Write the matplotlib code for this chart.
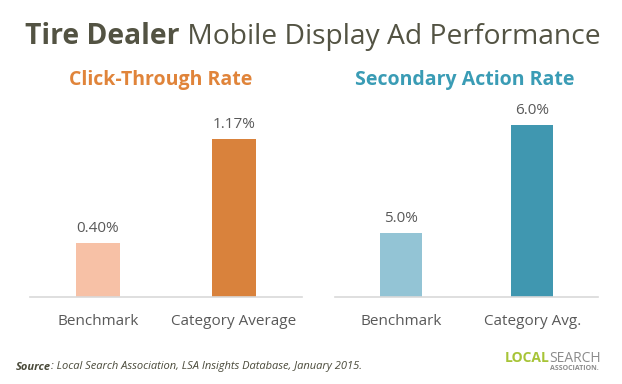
import matplotlib.pyplot as plt

# data
ctr_labels = ["Benchmark", "Category Average"]
ctr_values = [0.40, 1.17]
sar_labels = ["Benchmark", "Category Avg."]
sar_values = [5.0, 6.0]

ctr_colors = ["#F7C1A6", "#D9823C"]
sar_colors = ["#93C4D5", "#4097B0"]
text_color = "#595959"

plt.rcParams["font.family"] = ["Open Sans", "DejaVu Sans"]

W, H = 622, 384
fig = plt.figure(figsize=(W / 100, H / 100), dpi=100)


def px_axes(x0, x1, ybottom, ytop):
    return fig.add_axes([x0 / W, 1 - ybottom / H, (x1 - x0) / W, (ybottom - ytop) / H])


def bar_panel(ax, labels, values, colors, fmt, ylim):
    xs = range(len(values))
    # bars start at the bottom of the visible range (the right panel is not zero-based)
    ax.bar(xs, [v - ylim[0] for v in values], bottom=ylim[0], width=0.32, color=colors)
    ax.set_xlim(-0.5, 1.5)
    ax.set_ylim(*ylim)
    for x, v in zip(xs, values):
        ax.annotate(fmt.format(v), (x, v), xytext=(0, 5), textcoords="offset points",
                    ha="center", va="bottom", fontsize=11, color=text_color)
    ax.set_xticks(list(xs))
    ax.set_xticklabels(labels, fontsize=11, color=text_color)
    ax.tick_params(axis="x", length=0, pad=12)
    ax.set_yticks([])
    for s in ["top", "right", "left"]:
        ax.spines[s].set_visible(False)
    ax.spines["bottom"].set_color("#D9D9D9")
    ax.spines["bottom"].set_linewidth(1.2)
    ax.patch.set_alpha(0)


ax1 = px_axes(30, 302, 297, 108)
bar_panel(ax1, ctr_labels, ctr_values, ctr_colors, "{:.2f}%", (0, 1.4))

ax2 = px_axes(335, 598, 297, 108)
bar_panel(ax2, sar_labels, sar_values, sar_colors, "{:.1f}%", (4.41, 6.16))

fig.canvas.draw()
r = fig.canvas.get_renderer()

# title: bold lead + regular rest, centred as one line
title_y = 1 - 37 / H
t1 = fig.text(0.5, title_y, "Tire Dealer", fontsize=20.3, fontweight="bold",
              color="#535343", ha="right", va="center")
t2 = fig.text(0.5, title_y, " Mobile Display Ad Performance", fontsize=20.3,
              color="#535343", ha="left", va="center")
w1 = t1.get_window_extent(r).width
w2 = t2.get_window_extent(r).width
start = 28 + (570 - (w1 + w2)) / 2
t1.set_x((start + w1) / W)
t2.set_x((start + w1) / W)

fig.text(161 / W, 1 - 80 / H, "Click-Through Rate", fontsize=14, fontweight="bold",
         color="#E0843A", ha="center", va="center")
fig.text(465 / W, 1 - 80 / H, "Secondary Action Rate", fontsize=14, fontweight="bold",
         color="#3A9CB5", ha="center", va="center")

# footer
s1 = fig.text(16 / W, 1 - 367 / H, "Source", fontsize=8, fontweight="bold",
              style="italic", color="#4A4A3A", ha="left", va="center")
sw = s1.get_window_extent(r).width
fig.text((16 + sw) / W, 1 - 367 / H, ": Local Search Association, LSA Insights Database, January 2015.",
         fontsize=8, style="italic", color="#4A4A3A", ha="left", va="center")

l1 = fig.text(601 / W, 1 - 358 / H, "SEARCH", fontsize=10, color="#8C8C8C",
              ha="right", va="center")
lw = l1.get_window_extent(r).width
fig.text((601 - lw) / W, 1 - 358 / H, "LOCAL", fontsize=10, fontweight="bold",
         color="#A7C437", ha="right", va="center")
fig.text(599 / W, 1 - 369 / H, "ASSOCIATION.", fontsize=5, fontweight="bold",
         color="#8C8C8C", ha="right", va="center")

fig.savefig("out.png", dpi=100)
